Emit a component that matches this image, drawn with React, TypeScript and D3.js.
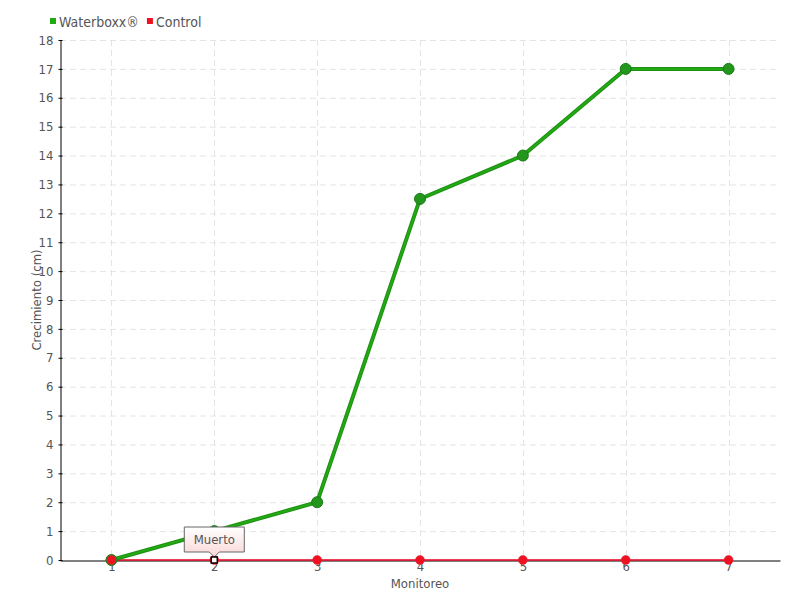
import React, { useEffect, useRef } from 'react';
import * as d3 from 'd3';

const monitoreos = [1, 2, 3, 4, 5, 6, 7];
const waterboxx = [0, 1, 2, 12.5, 14, 17, 17];
const control = [0, 0, 0, 0, 0, 0, 0];
const yTicks = d3.range(0, 19);

const FONT = '"DejaVu Sans Condensed", "Liberation Sans Narrow", sans-serif';

const App = () => {
  const svgRef = useRef<SVGSVGElement>(null);

  useEffect(() => {
    const svg = d3.select(svgRef.current);
    svg.selectAll('*').remove();

    const margin = { top: 40, right: 20, bottom: 40, left: 60 };
    const width = 800, height = 600;

    const x = d3.scaleLinear().domain([0.5, 7.5]).range([margin.left, width - margin.right]);
    const y = d3.scaleLinear().domain([0, 18]).range([height - margin.bottom, margin.top]);

    const g = svg.append('g');

    // grid
    g.selectAll('.hgrid')
      .data(yTicks.filter(d => d > 0))
      .enter()
      .append('line')
      .attr('x1', margin.left)
      .attr('x2', width - margin.right)
      .attr('y1', d => y(d) + 0.5)
      .attr('y2', d => y(d) + 0.5)
      .attr('stroke', '#e4e4e4')
      .attr('stroke-dasharray', '6,4');

    g.selectAll('.vgrid')
      .data(monitoreos)
      .enter()
      .append('line')
      .attr('x1', d => Math.round(x(d)) + 0.5)
      .attr('x2', d => Math.round(x(d)) + 0.5)
      .attr('y1', margin.top)
      .attr('y2', height - margin.bottom)
      .attr('stroke', '#e4e4e4')
      .attr('stroke-dasharray', '6,4');

    // axes
    const yAxis = g.append('g').attr('transform', `translate(${margin.left + 0.5},0)`)
      .call(d3.axisLeft(y).tickValues(yTicks).tickFormat(d3.format('d')).tickSize(4).tickPadding(3).tickSizeOuter(0));
    yAxis.select('.domain').attr('stroke', '#000');
    yAxis.selectAll('.tick line').attr('transform', 'translate(2,0)');
    yAxis.selectAll('text').attr('fill', '#555').attr('font-family', FONT).attr('font-size', 13);

    const xAxis = g.append('g').attr('transform', `translate(0,${height - margin.bottom + 0.5})`)
      .call(d3.axisBottom(x).tickValues(monitoreos).tickFormat(d3.format('d')).tickSize(0).tickPadding(1).tickSizeOuter(0));
    xAxis.select('.domain').attr('stroke', '#000');
    xAxis.selectAll('text').attr('fill', '#555').attr('font-family', FONT).attr('font-size', 13);

    // axis titles
    g.append('text')
      .attr('x', x(4))
      .attr('y', 588)
      .attr('text-anchor', 'middle')
      .attr('fill', '#555')
      .attr('font-family', FONT)
      .attr('font-size', 13)
      .text('Monitoreo');

    g.append('text')
      .attr('transform', `translate(41,${y(9)}) rotate(-90)`)
      .attr('text-anchor', 'middle')
      .attr('fill', '#555')
      .attr('font-family', FONT)
      .attr('font-size', 13)
      .text('Crecimiento (cm)');

    const line = d3.line<number>()
      .x((_, i) => x(monitoreos[i]))
      .y(d => y(d));

    // control series
    g.append('path')
      .datum(control)
      .attr('d', line)
      .attr('fill', 'none')
      .attr('stroke', '#e8001c')
      .attr('stroke-width', 1.5);

    // waterboxx series
    g.append('path')
      .datum(waterboxx)
      .attr('d', line)
      .attr('fill', 'none')
      .attr('stroke', '#1f8f12')
      .attr('stroke-width', 4);
    g.append('path')
      .datum(waterboxx)
      .attr('d', line)
      .attr('fill', 'none')
      .attr('stroke', '#22aa14')
      .attr('stroke-width', 2);

    g.selectAll('.wpt')
      .data(waterboxx)
      .enter()
      .append('circle')
      .attr('cx', (_, i) => x(monitoreos[i]))
      .attr('cy', d => y(d))
      .attr('r', 5.5)
      .attr('fill', '#23961d')
      .attr('stroke', '#1a7a16')
      .attr('stroke-width', 1);

    g.selectAll('.cpt')
      .data(control)
      .enter()
      .append('circle')
      .attr('cx', (_, i) => x(monitoreos[i]))
      .attr('cy', d => y(d))
      .attr('r', 4.5)
      .attr('fill', '#ee1122')
      .attr('stroke', '#dd2233')
      .attr('stroke-width', 0.5);

    // tooltip on monitoreo 2 (control)
    const tx = x(2), ty = y(0);
    const defs = svg.append('defs');
    const grad = defs.append('linearGradient').attr('id', 'tipgrad').attr('x1', 0).attr('y1', 0).attr('x2', 0).attr('y2', 1);
    grad.append('stop').attr('offset', '0%').attr('stop-color', '#ffffff');
    grad.append('stop').attr('offset', '100%').attr('stop-color', '#fbd6d6');

    const tip = g.append('g').attr('transform', `translate(${tx},${ty})`);
    const bw = 60, bh = 25, by = -33;
    tip.append('path')
      .attr('d', `M${-bw / 2},${by} h${bw} v${bh} h${-bw / 2 + 5} l-5,5 l-5,-5 h${-bw / 2 + 5} Z`)
      .attr('fill', 'url(#tipgrad)')
      .attr('stroke', '#666')
      .attr('stroke-width', 1);
    tip.append('text')
      .attr('x', 0)
      .attr('y', by + 17)
      .attr('text-anchor', 'middle')
      .attr('fill', '#555')
      .attr('font-family', FONT)
      .attr('font-size', 13)
      .text('Muerto');
    tip.append('rect')
      .attr('x', -3)
      .attr('y', -3)
      .attr('width', 6)
      .attr('height', 6)
      .attr('fill', '#fff')
      .attr('stroke', '#000')
      .attr('stroke-width', 1.5);

    // legend
    const legend = [
      { name: 'Waterboxx®', color: '#22aa14' },
      { name: 'Control', color: '#ee1122' },
    ];
    let lx = 50;
    legend.forEach(item => {
      const lg = g.append('g').attr('transform', `translate(${lx},0)`);
      lg.append('rect').attr('x', 0).attr('y', 18).attr('width', 6).attr('height', 6).attr('fill', item.color);
      const t = lg.append('text')
        .attr('x', 9)
        .attr('y', 27)
        .attr('fill', '#555')
        .attr('font-family', FONT)
        .attr('font-size', 14)
        .text(item.name);
      const w = (t.node() as SVGTextElement).getComputedTextLength();
      lx += 9 + w + 8;
    });
  }, []);

  return (
    <svg ref={svgRef} width={800} height={600} style={{ position: 'absolute', left: 0, top: 0, background: '#fff' }} />
  );
};

export default App;
